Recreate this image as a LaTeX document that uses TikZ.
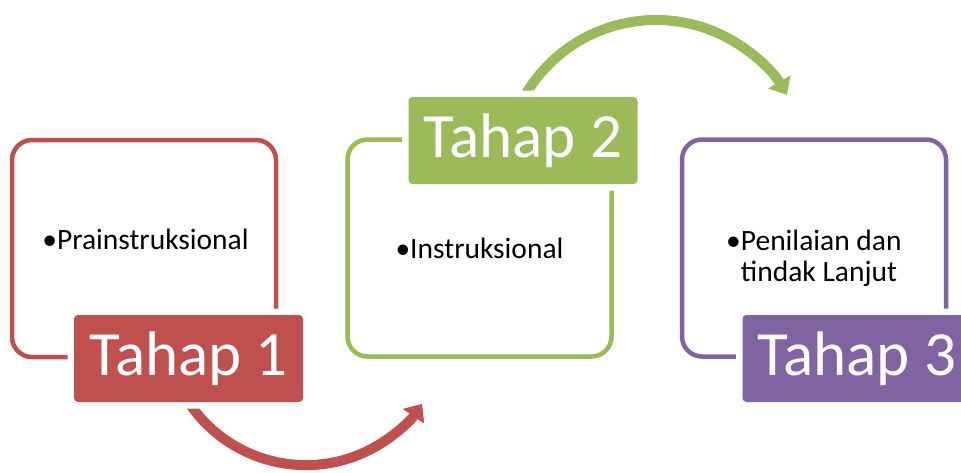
\documentclass[tikz,border=0pt]{standalone}
\usepackage{fontspec}
\setmainfont{Carlito}
\usetikzlibrary{arrows.meta}
\definecolor{cred}{HTML}{C0504D}
\definecolor{cgreen}{HTML}{9BBB59}
\definecolor{cpurple}{HTML}{8064A2}
\begin{document}
\begin{tikzpicture}[x=1pt,y=-1pt,
  framebox/.style={rectangle, draw, rounded corners=20pt, line width=4.5pt, minimum width=264pt, minimum height=217pt, inner sep=0pt},
  tag/.style={rectangle, rounded corners=4pt, minimum width=229pt, minimum height=87pt, inner sep=0pt, text=white,
    font=\fontsize{63}{63}\selectfont, preaction={draw=white, line width=13pt}},
  item/.style={font=\fontsize{29.5}{31}\selectfont, align=left, inner sep=0pt, anchor=base},
  flow/.style={line width=10pt, -{Triangle[length=15pt,width=25pt]}}]
\useasboundingbox (0,0) rectangle (961,472);
\fill[white] (0,0) rectangle (961,472);
% frames
\node[framebox, draw=cred] (b1) at (144,248.5) {};
\node[framebox, draw=cgreen] (b2) at (479.5,248) {};
\node[framebox, draw=cpurple] (b3) at (814,248) {};
% arrows
\coordinate (rc) at (305.9,324.4);
\coordinate (gc) at (656.1,171.7);
\draw[flow, cred] (rc) ++(150:140.7) arc[start angle=150, end angle=34.4, radius=140.7];
\draw[flow, cgreen] (gc) ++(208:151.7) arc[start angle=208, end angle=329.6, radius=151.7];
% tags
\node[tag, fill=cred] (t1) at (188.5,358.5) {Tahap 1};
\node[tag, fill=cgreen] (t2) at (523,140.5) {Tahap 2};
\node[tag, fill=cpurple] (t3) at (857,358.5) {Tahap 3};
% texts
\node[item] (p1) at (145.5,249.5) {•Prainstruksional};
\node[item] (p2) at (479.5,258) {•Instruksional};
\node[item, anchor=north west] (p3) at (726,229.5) {•Penilaian dan\\\hphantom{•}tindak Lanjut};
\end{tikzpicture}
\end{document}
